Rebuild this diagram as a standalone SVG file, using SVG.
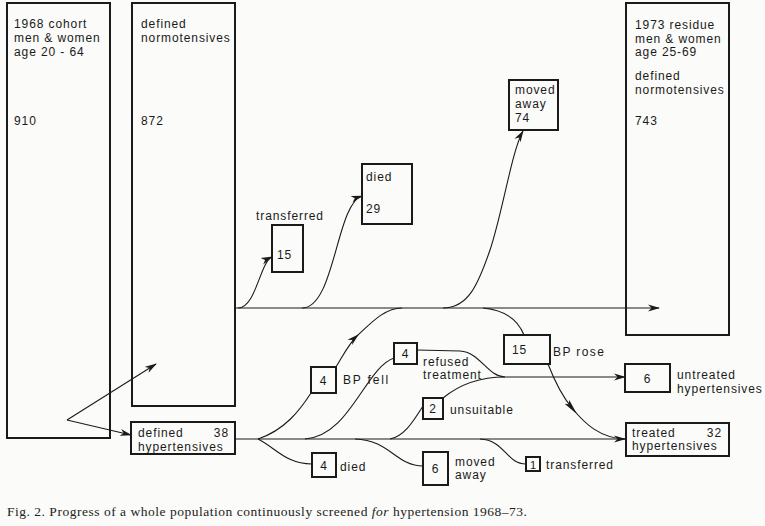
<svg xmlns="http://www.w3.org/2000/svg" width="765" height="526" viewBox="0 0 765 526">
<style>
.box{fill:none;stroke:#1a1a1a;stroke-width:2}
.t{font-family:"Liberation Sans","Helvetica",Arial,sans-serif;font-size:12px;letter-spacing:0.9px;fill:#1a1a1a}
.c{fill:none;stroke:#1a1a1a;stroke-width:1.1}
.cap{font-family:"Liberation Serif","Times New Roman",serif;font-size:13.5px;fill:#222}
</style>
<defs>
<marker id="ar" viewBox="0 0 12 8" refX="11" refY="4" markerWidth="12" markerHeight="8" markerUnits="userSpaceOnUse" orient="auto">
<path d="M0,0.5 L12,4 L0,7.5 L3.5,4 z" fill="#1a1a1a"/>
</marker>
<marker id="arL" viewBox="0 0 16 8" refX="8" refY="4" markerWidth="16" markerHeight="8" markerUnits="userSpaceOnUse" orient="auto">
<path d="M0,1 L16,4 L0,7 L3,4 z" fill="#1a1a1a"/>
</marker>
</defs>
<rect width="765" height="526" fill="#fbfbf9"/>

<g id="connectors">
<line class="c" x1="67" y1="420" x2="156" y2="364" marker-end="url(#ar)"/>
<line class="c" x1="67" y1="420" x2="131" y2="435" marker-end="url(#ar)"/>
<line class="c" x1="235" y1="308" x2="659" y2="308" marker-end="url(#ar)"/>
<path class="c" d="M238,308 C256,308 260,262 272,257" marker-end="url(#ar)"/>
<path class="c" d="M302,308 C335,308 336,204 362,196" marker-end="url(#ar)"/>
<path class="c" d="M443,308 C468,308 478,285 490,250 S512,150 523,131" marker-end="url(#ar)"/>
<line class="c" x1="235" y1="439" x2="625" y2="439" marker-end="url(#ar)"/>
<path class="c" d="M258,439 C285,430 300,410 311,393"/>
<path class="c" d="M336,367 C345,352 350,342 358,335 C372,322 385,308 402,308" marker-mid="url(#ar)"/>
<path class="c" d="M305,439 C350,436 365,368 394,358"/>
<path class="c" d="M417,350 L460,351 C480,352 488,377 505,377"/>
<path class="c" d="M390,439 C405,436 414,420 423,406"/>
<path class="c" d="M443,398 C460,384 480,377 505,377"/>
<line class="c" x1="505" y1="377" x2="625" y2="377" marker-end="url(#ar)"/>
<path class="c" d="M483,308 C505,310 518,320 524,335"/>
<path class="c" d="M548,364 C555,382 562,396 572,408 C585,424 600,438 625,439" marker-mid="url(#arL)"/>
<path class="c" d="M258,439 C276,448 286,464 312,464"/>
<path class="c" d="M355,439 C390,440 396,466 423,466"/>
<path class="c" d="M480,439 C505,440 506,464 526,464"/>
</g>

<g id="cohort1968">
<rect class="box" x="7" y="3" width="103" height="435"/>
<text class="t" x="14" y="28">1968  cohort</text>
<text class="t" x="14" y="42">men &amp; women</text>
<text class="t" x="14" y="56">age  20 - 64</text>
<text class="t" x="14" y="125">910</text>
</g>

<g id="normotensives">
<rect class="box" x="132" y="3" width="103" height="403"/>
<text class="t" x="141" y="28">defined</text>
<text class="t" x="141" y="42">normotensives</text>
<text class="t" x="141" y="125">872</text>
</g>

<g id="residue1973">
<rect class="box" x="626" y="3" width="103" height="332"/>
<text class="t" x="635" y="29">1973  residue</text>
<text class="t" x="635" y="43">men &amp; women</text>
<text class="t" x="635" y="56">age  25-69</text>
<text class="t" x="635" y="80">defined</text>
<text class="t" x="635" y="94">normotensives</text>
<text class="t" x="635" y="125">743</text>
</g>

<g id="transferred15">
<text class="t" x="256" y="220">transferred</text>
<rect class="box" x="272" y="225" width="31" height="47"/>
<text class="t" x="277" y="259">15</text>
</g>

<g id="died29">
<rect class="box" x="362" y="164" width="50" height="60"/>
<text class="t" x="366" y="181">died</text>
<text class="t" x="366" y="213">29</text>
</g>

<g id="movedaway74">
<rect class="box" x="509" y="80" width="49" height="50"/>
<text class="t" x="515" y="94">moved</text>
<text class="t" x="515" y="108">away</text>
<text class="t" x="515" y="122">74</text>
</g>

<g id="hypertensives">
<rect class="box" x="131" y="422" width="104" height="32"/>
<text class="t" x="138" y="437">defined</text>
<text class="t" x="229" y="437" text-anchor="end">38</text>
<text class="t" x="138" y="451">hypertensives</text>
</g>

<g id="bpfell">
<rect class="box" x="311" y="367" width="25" height="26"/>
<text class="t" x="323.5" y="385" text-anchor="middle">4</text>
<text class="t" x="343" y="384" style="letter-spacing:1.8px">BP fell</text>
</g>

<g id="refused">
<rect class="box" x="394" y="343" width="23" height="21"/>
<text class="t" x="405.5" y="358" text-anchor="middle">4</text>
<text class="t" x="423" y="366">refused</text>
<text class="t" x="423" y="379">treatment</text>
</g>

<g id="unsuitable">
<rect class="box" x="423" y="398" width="20" height="21"/>
<text class="t" x="433" y="413" text-anchor="middle">2</text>
<text class="t" x="450" y="414">unsuitable</text>
</g>

<g id="bprose">
<rect class="box" x="504" y="335" width="46" height="29"/>
<text class="t" x="512" y="354">15</text>
<text class="t" x="553" y="356" style="letter-spacing:1.4px">BP rose</text>
</g>

<g id="untreated">
<rect class="box" x="625" y="364" width="45" height="28"/>
<text class="t" x="647.5" y="383" text-anchor="middle">6</text>
<text class="t" x="677" y="379">untreated</text>
<text class="t" x="677" y="393">hypertensives</text>
</g>

<g id="treated">
<rect class="box" x="626" y="423" width="103" height="33"/>
<text class="t" x="632" y="437">treated</text>
<text class="t" x="722" y="437" text-anchor="end">32</text>
<text class="t" x="632" y="450">hypertensives</text>
</g>

<g id="died4">
<rect class="box" x="312" y="453" width="24" height="24"/>
<text class="t" x="324" y="470" text-anchor="middle">4</text>
<text class="t" x="340" y="471">died</text>
</g>

<g id="movedaway6">
<rect class="box" x="423" y="452" width="25" height="33"/>
<text class="t" x="435.5" y="473" text-anchor="middle">6</text>
<text class="t" x="455" y="466">moved</text>
<text class="t" x="455" y="479">away</text>
</g>

<g id="transferred1">
<rect class="box" x="526" y="457" width="14" height="14"/>
<text class="t" x="533" y="468.5" text-anchor="middle" style="letter-spacing:0;font-size:11px">1</text>
<text class="t" x="546" y="469">transferred</text>
</g>

<text class="cap" x="7" y="516" textLength="520" lengthAdjust="spacing">Fig. 2.  Progress of a whole population continuously screened <tspan font-style="italic">for</tspan> hypertension 1968–73.</text>
</svg>
